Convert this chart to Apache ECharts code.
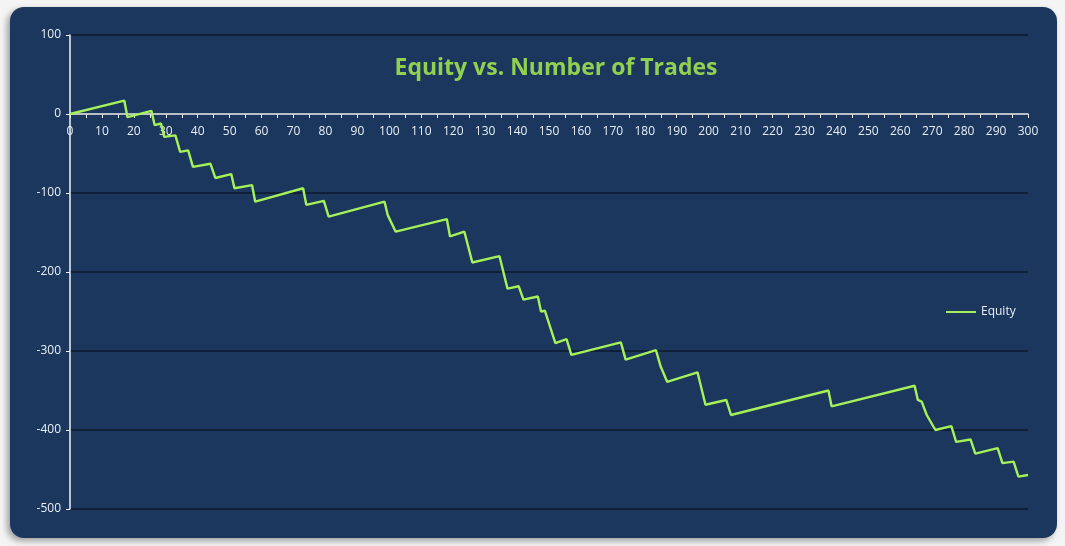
<!DOCTYPE html>
<html><head><meta charset="utf-8">
<script src="https://cdn.jsdelivr.net/npm/echarts@6/dist/echarts.min.js"></script>
<style>
html,body{margin:0;padding:0;width:1065px;height:546px;background:#f4f4f4;overflow:hidden}
#panel{position:absolute;left:10px;top:7px;width:1047px;height:531px;background:#1b375e;border-radius:14px;box-shadow:-3px 3px 6px rgba(0,0,0,0.35)}
#chart{position:absolute;left:0;top:0;width:1065px;height:546px}
</style></head>
<body>
<div id="panel"></div>
<div id="chart"></div>
<script>
// trade number of each vertex of the equity curve
const trades = [0,17,18,25.5,26.5,28.5,29.5,33,34.5,37,38.5,44,45.5,50.5,51.5,57,58,73,74,79.5,81,98.5,99.5,102,118,119,123.5,126,134.5,137,140.5,142,146.5,147.5,148.7,152,155.5,157,172.5,174,183.5,185,187,196.5,199,205.5,207,237.5,238.5,264.5,265.5,266.7,268.3,271,276,277.5,282,283.5,290.5,292,295.5,297,300];
// equity value at each vertex
const equity = [0,17,-4,4,-14,-12,-29,-27,-48,-46,-67,-63,-81,-76,-94,-90,-111,-94,-115,-110,-130,-111,-128,-149,-133,-155,-149,-188,-180,-221,-218,-235,-231,-250,-249,-290,-285,-305,-289,-311,-299,-320,-339,-327,-368,-362,-381,-350,-370,-344,-362,-364,-381,-400,-395,-415,-412,-430,-423,-442,-440,-459,-457];
const yTicks = [-500,-400,-300,-200,-100,0,100];
const xMax = 300;
const seriesName = 'Equity';
const titleText = 'Equity vs. Number of Trades';

const gridTop = 35, gridBottom = 37, H = 546;
const plotH = H - gridTop - gridBottom;
const yMin = yTicks[0], yMax = yTicks[yTicks.length-1];
// place the x axis on the zero line
const xOffset = -plotH * (0 - yMin) / (yMax - yMin);

const chart = echarts.init(document.getElementById('chart'));
const fontFam = 'Open Sans, Liberation Sans, sans-serif';
chart.setOption({
  animation:false,
  backgroundColor:'transparent',
  title:{text:titleText,left:551,top:52,textAlign:'center',
    textStyle:{color:'#92d050',fontSize:23,fontWeight:'bold',fontFamily:'Liberation Sans Narrow, Open Sans, sans-serif'}},
  legend:{data:[{name:seriesName,icon:'rect'}],left:941,top:301,itemWidth:30,itemHeight:2,itemGap:3,
    textStyle:{color:'#e8eef5',fontSize:12,fontFamily:fontFam}},
  grid:{left:70,right:37,top:gridTop,bottom:gridBottom,containLabel:false},
  xAxis:{type:'value',min:0,max:xMax,interval:10,offset:xOffset,
    axisLine:{onZero:false,lineStyle:{color:'#f0f4f8',width:1.5}},
    axisTick:{show:true,length:4,lineStyle:{color:'#f0f4f8'}},
    minorTick:{show:true,splitNumber:2,length:4,lineStyle:{color:'#f0f4f8'}},
    splitLine:{show:false},
    axisLabel:{color:'#e8eef5',fontSize:12,fontFamily:fontFam,margin:12}},
  yAxis:{type:'value',min:yMin,max:yMax,interval:100,
    axisLine:{show:true,lineStyle:{color:'#f0f4f8',width:1.5}},
    axisTick:{show:true,length:4,lineStyle:{color:'#f0f4f8'}},
    splitLine:{show:true,lineStyle:{color:'#0c1a2c',width:1.5}},
    axisLabel:{color:'#e8eef5',fontSize:12,fontFamily:fontFam,margin:9}},
  series:[{name:seriesName,type:'line',showSymbol:false,symbol:'none',
    data:trades.map((t,i)=>[t,equity[i]]),
    lineStyle:{color:'#a6f05a',width:2.4},itemStyle:{color:'#a6f05a'}}]
});
</script>
</body></html>
